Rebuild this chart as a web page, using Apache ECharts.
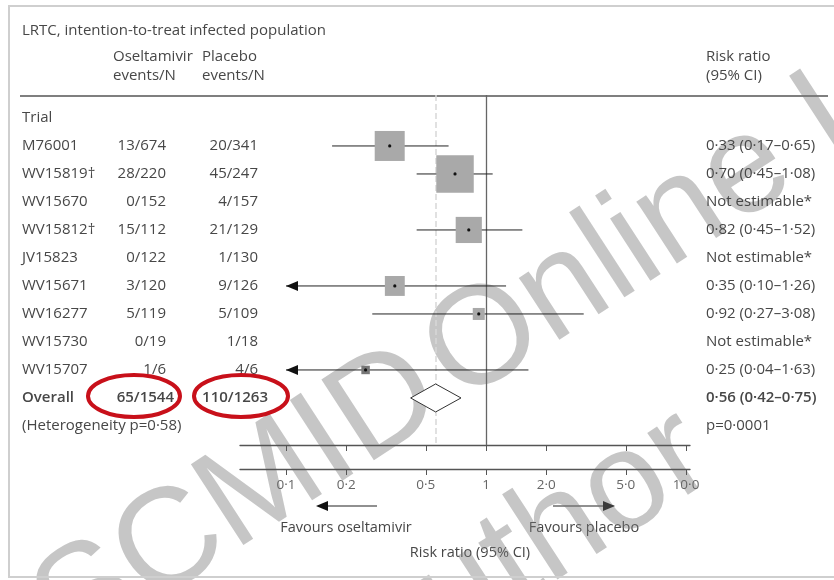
<!DOCTYPE html>
<html>
<head>
<meta charset="utf-8">
<title>LRTC, intention-to-treat infected population</title>
<script src="https://cdn.jsdelivr.net/npm/echarts@6/dist/echarts.min.js"></script>
<style>
  html, body { margin: 0; padding: 0; background: #fff; }
  #chart { width: 834px; height: 580px; }
</style>
</head>
<body>
<div id="chart"></div>
<script>
// trial data
var trials = ['M76001', 'WV15819\u2020', 'WV15670', 'WV15812\u2020', 'JV15823', 'WV15671', 'WV16277', 'WV15730', 'WV15707'];
var oselEvents = [13, 28, 0, 15, 0, 3, 5, 0, 1];
var oselN = [674, 220, 152, 112, 122, 120, 119, 19, 6];
var placEvents = [20, 45, 4, 21, 1, 9, 5, 1, 4];
var placN = [341, 247, 157, 129, 130, 126, 109, 18, 6];
var riskRatio = [0.33, 0.70, null, 0.82, null, 0.35, 0.92, null, 0.25];
var ciLow = [0.17, 0.45, null, 0.45, null, 0.10, 0.27, null, 0.04];
var ciHigh = [0.65, 1.08, null, 1.52, null, 1.26, 3.08, null, 1.63];
var weights = [25, 39, null, 19, null, 11, 4, null, 2]; // % weight (box area)
var overall = [0.56, 0.42, 0.75];
var heterogeneityP = 0.58;
var overallP = '0\u00b70001';

var tickValues = [0.1, 0.2, 0.5, 1, 2, 5, 10];
var tickLabels = ['0\u00b71', '0\u00b72', '0\u00b75', '1', '2\u00b70', '5\u00b70', '10\u00b70'];

// layout
var FONT = "'Open Sans', 'Liberation Sans', sans-serif";
var TXT = '#474747';
var COL_LABEL = 22, COL_OSEL = 166, COL_PLAC = 258, COL_RR = 706;
var WM_FONT = '140px "Liberation Sans", sans-serif';
var WM_FILL = 'rgba(120,120,120,0.42)';

function fmt(v) { return v.toFixed(2).replace('.', '\u00b7'); }
function sum(a) { return a.reduce(function (s, v) { return s + v; }, 0); }

// table rows (row index = y value)
var tableRows = [{ label: 'Trial' }];
trials.forEach(function (t, i) {
  tableRows.push({
    label: t,
    osel: oselEvents[i] + '/' + oselN[i],
    plac: placEvents[i] + '/' + placN[i],
    rr: riskRatio[i] == null ? 'Not estimable*' :
      fmt(riskRatio[i]) + ' (' + fmt(ciLow[i]) + '\u2013' + fmt(ciHigh[i]) + ')'
  });
});
tableRows.push({
  label: 'Overall', bold: true,
  osel: sum(oselEvents) + '/' + sum(oselN),
  plac: sum(placEvents) + '/' + sum(placN),
  rr: fmt(overall[0]) + ' (' + fmt(overall[1]) + '\u2013' + fmt(overall[2]) + ')'
});
tableRows.push({ label: '(Heterogeneity p=' + fmt(heterogeneityP) + ')', rr: 'p=' + overallP });
var overallRow = trials.length + 1;

var forestData = [];
trials.forEach(function (t, i) {
  if (riskRatio[i] == null) return;
  forestData.push([i + 1, Math.log10(riskRatio[i]), Math.log10(ciLow[i]), Math.log10(ciHigh[i]), weights[i]]);
});

var chart = echarts.init(document.getElementById('chart'));

function tableText(x, y, text, align, bold) {
  return {
    type: 'text', x: x, y: y,
    style: {
      text: text, fill: TXT, align: align, verticalAlign: 'middle',
      font: (bold ? '600 ' : '') + '15px ' + FONT
    }
  };
}

function renderTable(params, api) {
  var r = tableRows[params.dataIndex];
  var y = api.coord([0, api.value(0)])[1];
  var kids = [tableText(COL_LABEL, y, r.label, 'left', r.bold)];
  if (r.osel) kids.push(tableText(r.bold ? COL_OSEL + 8 : COL_OSEL, y, r.osel, 'right', r.bold));
  if (r.plac) kids.push(tableText(r.bold ? COL_PLAC + 10 : COL_PLAC, y, r.plac, 'right', r.bold));
  if (r.rr) kids.push(tableText(COL_RR, y, r.rr, 'left', r.bold));
  return { type: 'group', children: kids };
}

function renderForest(params, api) {
  var row = api.value(0);
  var c = api.coord([api.value(1), row]);
  var lo = api.value(2), hi = api.value(3);
  var pLo = api.coord([Math.max(lo, -1), row]);
  var pHi = api.coord([Math.min(hi, 1), row]);
  var s = Math.sqrt(api.value(4)) * 6;
  var kids = [{
    type: 'line',
    shape: { x1: pLo[0], y1: c[1], x2: pHi[0], y2: c[1] },
    style: { stroke: '#222', lineWidth: 1 }
  }];
  if (lo <= -0.999) {
    kids.push({
      type: 'polygon',
      shape: { points: [[pLo[0], c[1]], [pLo[0] + 12, c[1] - 5], [pLo[0] + 12, c[1] + 5]] },
      style: { fill: '#111' }
    });
  }
  kids.push({
    type: 'rect',
    shape: { x: c[0] - s / 2, y: c[1] - s / 2, width: s, height: s },
    style: { fill: s < 10 ? '#777' : '#a9a9a9' }
  });
  kids.push({
    type: 'circle',
    shape: { cx: c[0], cy: c[1], r: 1.6 },
    style: { fill: '#111' }
  });
  return { type: 'group', children: kids };
}

function renderDiamond(params, api) {
  var row = api.value(0);
  var c = api.coord([api.value(1), row]);
  var l = api.coord([api.value(2), row]);
  var h = api.coord([api.value(3), row]);
  return {
    type: 'polygon',
    shape: { points: [[l[0], c[1]], [c[0], c[1] - 14], [h[0], c[1]], [c[0], c[1] + 14]] },
    style: { fill: '#fff', stroke: '#333', lineWidth: 1 }
  };
}

function tickFormatter(v) {
  for (var i = 0; i < tickValues.length; i++) {
    if (Math.abs(Math.log10(tickValues[i]) - v) < 1e-6) return tickLabels[i];
  }
  return '';
}

var logTicks = tickValues.map(Math.log10);
function makeAxis(extra) {
  return echarts.util.merge({
    type: 'value', min: -1.23, max: 1.02, position: 'bottom',
    splitLine: { show: false },
    axisLine: { onZero: false, lineStyle: { color: '#555', width: 1.3 } },
    axisTick: { customValues: logTicks, length: 6, lineStyle: { color: '#555' } }
  }, extra, true);
}

var option = {
  animation: false,
  backgroundColor: '#fff',
  grid: { left: 240, right: 144, top: 95, bottom: 135 },
  xAxis: [
    makeAxis({ axisLabel: { show: false } }),
    makeAxis({
      offset: 24,
      axisLabel: {
        customValues: logTicks, formatter: tickFormatter, margin: 9,
        color: '#666', fontSize: 13.5, fontFamily: FONT
      }
    })
  ],
  yAxis: { type: 'value', inverse: true, min: -0.82, max: 11.68, show: false },
  series: [
    {
      type: 'line', data: [], silent: true,
      markLine: {
        silent: true, symbol: 'none', label: { show: false },
        data: [
          { xAxis: 0, lineStyle: { color: '#666', width: 1.3, type: 'solid' } },
          { xAxis: Math.log10(overall[0]), lineStyle: { color: '#d8d8d8', width: 1.5, type: 'dashed' } }
        ]
      }
    },
    { type: 'custom', renderItem: renderForest, data: forestData, z: 5 },
    { type: 'custom', renderItem: renderDiamond, data: [[overallRow, Math.log10(overall[0]), Math.log10(overall[1]), Math.log10(overall[2])]], z: 5 },
    { type: 'custom', renderItem: renderTable, data: tableRows.map(function (r, i) { return [i]; }), z: 5 }
  ],
  graphic: [
    // frame
    { type: 'rect', shape: { x: 9, y: 6, width: 840, height: 571 }, style: { fill: 'none', stroke: '#cfcfcf', lineWidth: 2 }, z: 1 },
    { type: 'line', shape: { x1: 20, y1: 96, x2: 828, y2: 96 }, style: { stroke: '#555', lineWidth: 1.5 } },
    { type: 'text', x: 22, y: 31, style: { text: 'LRTC, intention-to-treat infected population', font: '15px ' + FONT, fill: TXT, verticalAlign: 'middle' } },
    { type: 'text', x: 113, y: 57, style: { text: 'Oseltamivir', font: '15px ' + FONT, fill: TXT, verticalAlign: 'middle' } },
    { type: 'text', x: 113, y: 76, style: { text: 'events/N', font: '15px ' + FONT, fill: TXT, verticalAlign: 'middle' } },
    { type: 'text', x: 202, y: 57, style: { text: 'Placebo', font: '15px ' + FONT, fill: TXT, verticalAlign: 'middle' } },
    { type: 'text', x: 202, y: 76, style: { text: 'events/N', font: '15px ' + FONT, fill: TXT, verticalAlign: 'middle' } },
    { type: 'text', x: 706, y: 57, style: { text: 'Risk ratio', font: '15px ' + FONT, fill: TXT, verticalAlign: 'middle' } },
    { type: 'text', x: 706, y: 76, style: { text: '(95% CI)', font: '15px ' + FONT, fill: TXT, verticalAlign: 'middle' } },
    // favours arrows
    { type: 'line', shape: { x1: 326, y1: 506, x2: 377, y2: 506 }, style: { stroke: '#222', lineWidth: 1.2 } },
    { type: 'polygon', shape: { points: [[316, 506], [328, 501], [328, 511]] }, style: { fill: '#111' } },
    { type: 'line', shape: { x1: 553, y1: 506, x2: 604, y2: 506 }, style: { stroke: '#222', lineWidth: 1.2 } },
    { type: 'polygon', shape: { points: [[615, 506], [603, 501], [603, 511]] }, style: { fill: '#111' } },
    { type: 'text', x: 346, y: 528, style: { text: 'Favours oseltamivir', font: '14.5px ' + FONT, fill: TXT, align: 'center', verticalAlign: 'middle' } },
    { type: 'text', x: 584, y: 528, style: { text: 'Favours placebo', font: '14.5px ' + FONT, fill: TXT, align: 'center', verticalAlign: 'middle' } },
    { type: 'text', x: 470, y: 553, style: { text: 'Risk ratio (95% CI)', font: '14.5px ' + FONT, fill: TXT, align: 'center', verticalAlign: 'middle' } },
    // watermark, origin at the centre of the "O" of "Online"
    {
      type: 'group', x: 485, y: 342, rotation: 33 * Math.PI / 180, z: 100, silent: true,
      children: [
        { type: 'text', x: -68, y: 0, style: { text: 'ESCMID', font: WM_FONT, fill: WM_FILL, align: 'right', verticalAlign: 'middle' } },
        { type: 'text', x: -55, y: 0, style: { text: 'Online Lecture Library', font: WM_FONT, fill: WM_FILL, align: 'left', verticalAlign: 'middle' } },
        { type: 'text', x: 124, y: 200, style: { text: '\u00a9 by author', font: WM_FONT, fill: WM_FILL, align: 'right', verticalAlign: 'middle' } }
      ]
    },
    // red highlight ellipses round the overall totals
    { type: 'ellipse', z: 110, shape: { cx: 134, cy: 396, rx: 46, ry: 21 }, style: { fill: 'none', stroke: '#c8101a', lineWidth: 4 } },
    { type: 'ellipse', z: 110, shape: { cx: 241, cy: 396, rx: 47, ry: 21 }, style: { fill: 'none', stroke: '#c8101a', lineWidth: 4 } }
  ]
};

chart.setOption(option);
</script>
</body>
</html>
